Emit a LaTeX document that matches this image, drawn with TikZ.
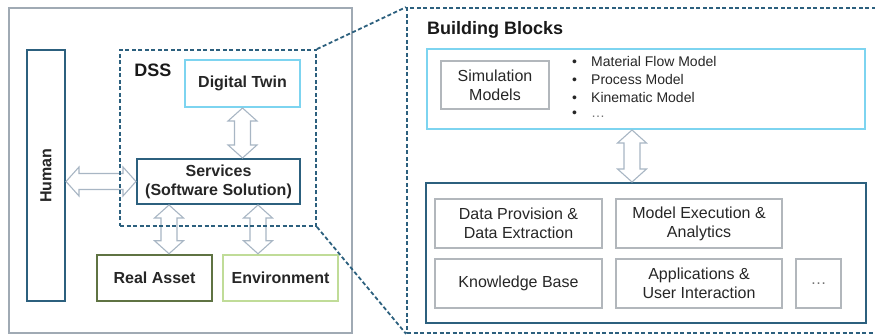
\documentclass[tikz,border=0pt]{standalone}
\usepackage{fontspec}
\setmainfont{Liberation Sans}
\usepackage{graphicx}
\usepackage{tikz}
\usetikzlibrary{calc}

\definecolor{tealblue}{RGB}{44,96,126}
\definecolor{skyline}{RGB}{125,212,240}
\definecolor{assetgreen}{RGB}{95,115,67}
\definecolor{envgreen}{RGB}{192,220,152}
\definecolor{framegray}{RGB}{160,170,180}
\definecolor{boxgray}{RGB}{178,183,188}
\definecolor{arrowgray}{RGB}{168,182,196}

\begin{document}
\begin{tikzpicture}[x=1pt,y=-1pt,
  box/.style={draw,rectangle,inner sep=0,align=center,text=black!85},
  bold/.style={font=\fontsize{16}{19}\selectfont\bfseries},
  plain/.style={font=\fontsize{16}{19}\selectfont},
  head/.style={font=\fontsize{18}{21}\selectfont\bfseries,text=black!90,inner sep=0},
  block/.style={box,plain,draw=boxgray,line width=1.2pt},
  dashframe/.style={draw=tealblue,line width=1.8pt,dash pattern=on 4pt off 2.5pt},
  twoway/.style={draw=arrowgray,fill=white,line width=1.1pt,
    to path={-- ($(\tikztostart)!13pt!(\tikztotarget)!14.5pt!90:(\tikztotarget)$)
      -- ($(\tikztostart)!13pt!(\tikztotarget)!8pt!90:(\tikztotarget)$)
      -- ($(\tikztotarget)!13pt!(\tikztostart)!8pt!-90:(\tikztostart)$)
      -- ($(\tikztotarget)!13pt!(\tikztostart)!14.5pt!-90:(\tikztostart)$)
      -- (\tikztotarget)
      -- ($(\tikztotarget)!13pt!(\tikztostart)!14.5pt!90:(\tikztostart)$)
      -- ($(\tikztotarget)!13pt!(\tikztostart)!8pt!90:(\tikztostart)$)
      -- ($(\tikztostart)!13pt!(\tikztotarget)!8pt!-90:(\tikztotarget)$)
      -- ($(\tikztostart)!13pt!(\tikztotarget)!14.5pt!-90:(\tikztotarget)$)
      -- cycle}}]
  \useasboundingbox (0,0) rectangle (875,336);

  % left: the system
  \node[box,draw=framegray,line width=2.5pt,minimum width=343,minimum height=325] (system) at (180.5,170.5) {};
  \node[box,bold,draw=tealblue,line width=2pt,minimum width=38,minimum height=251] (human) at (46,175.5) {\rotatebox{90}{Human}};
  \node[box,bold,draw=skyline,line width=2pt,minimum width=115,minimum height=47] (dt) at (242.5,83.5) {Digital Twin};
  \node[box,bold,draw=tealblue,line width=2pt,minimum width=163,minimum height=45] (services) at (218.5,181.5) {Services\\(Software Solution)};
  \node[box,bold,draw=assetgreen,line width=2.5pt,minimum width=115,minimum height=46] (asset) at (154.5,278) {Real Asset};
  \node[box,bold,draw=envgreen,line width=2.5pt,minimum width=115,minimum height=46] (envir) at (280.5,278) {Environment};

  \coordinate (ra) at ([xshift=33]services.south west);
  \coordinate (en) at ([xshift=-43]services.south east);
  \draw[twoway] (dt.south) to (dt.south |- services.north);
  \draw[twoway] (human.east |- services.west) to (services.west);
  \draw[twoway] (ra) to (ra |- asset.north);
  \draw[twoway] (en) to (en |- envir.north);

  \node[dashframe,minimum width=196,minimum height=176] (dss) at (218,138) {};
  \node[head] (dsslabel) at (153,70) {DSS};

  % right: building blocks
  \node[dashframe,minimum width=478,minimum height=325] (zoom) at (646,170.5) {};
  \draw[dashframe] (dss.north east) -- (zoom.north west);
  \draw[dashframe] (dss.south east) -- (zoom.south west);
  \node[head,anchor=west] (bbtitle) at (427,30) {Building Blocks};

  \node[box,draw=skyline,line width=2pt,minimum width=438,minimum height=80] (top) at (646,89) {};
  \node[block,minimum width=108,minimum height=48] (models) at (495,85) {Simulation\\Models};
  \foreach \txt [count=\i] in {Material Flow Model,Process Model,Kinematic Model,{\textcolor{black!55}{…}}}
    \node[anchor=west,inner sep=0,text=black!85,font=\fontsize{14}{16}\selectfont] (item\i) at (572,44.5+17.5*\i) {\makebox[19pt][l]{•}\txt};

  \node[box,draw=tealblue,line width=2pt,minimum width=440,minimum height=140] (base) at (646,253) {};
  \foreach \name/\x/\y/\w/\txt in {prov/518.5/223.5/167/{Data Provision \&\\Data Extraction},
      exec/699/223.5/166/{Model Execution \&\\Analytics},
      know/518.5/283.5/167/{Knowledge Base},
      apps/699/283.5/166/{Applications \&\\User Interaction},
      more/818.5/283.5/45/{\textcolor{black!55}{…}}}
    \node[block,minimum width=\w,minimum height=49] (\name) at (\x,\y) {\txt};

  \coordinate (link) at ([xshift=-14]top.south);
  \draw[twoway] (link) to (link |- base.north);
\end{tikzpicture}
\end{document}
